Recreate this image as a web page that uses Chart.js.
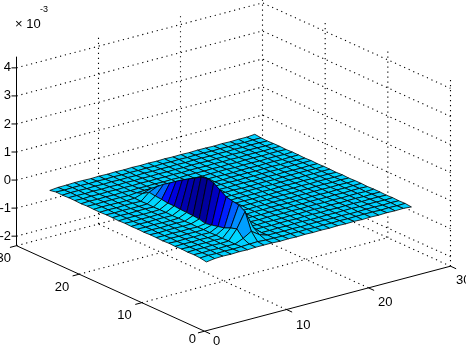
<!DOCTYPE html>
<html>
<head>
<meta charset="utf-8">
<style>
  html, body { margin: 0; padding: 0; background: #fff; }
  canvas { display: block; }
</style>
<script src="https://cdn.jsdelivr.net/npm/chart.js@4"></script>
</head>
<body>
<canvas id="grafico" width="466" height="346"></canvas>
<script>
// tick values and labels
const xyTicks = [0, 10, 20, 30];
const xyLabels = ['0', '10', '20', '30'];
const zTicks = [-2, -1, 0, 1, 2, 3, 4];
const zLabels = ['-2', '-1', '0', '1', '2', '3', '4'];
const wallTicks = [10, 20];

// surface heights (x 10^-3), one row per grid line, 26 x 26
const zRows = [
  [-.05,-.01,.004,-.006,.006,-.004,.008,-.008,.004,.006,-.006,.004,-.004,.006,-.006,.004,.006,-.006,-.004,.006,-.008,.004,.006,-.006,.004,-.04],
  [-.008,.006,-.004,.006,-.006,.004,-.006,.006,-.004,-.006,.006,-.006,.004,-.006,.004,.006,-.006,.004,.006,-.004,.006,-.006,.004,.006,-.006,-.01],
  [.004,-.006,.006,-.004,.004,-.006,.004,-.004,.006,.004,-.004,.006,-.006,.004,.006,-.006,.004,-.006,.004,.006,-.004,.006,-.006,.004,.006,-.006],
  [-.006,.004,-.006,.006,-.004,.006,-.006,.004,-.006,.006,.004,-.006,.006,-.004,-.006,.006,-.004,.006,-.006,.004,.006,-.004,.006,-.006,.004,.006],
  [.006,-.004,.004,-.006,.004,-.004,.006,-.006,.004,-.004,.006,-.006,.004,.006,-.004,.006,-.006,.004,-.006,.004,-.006,.006,-.004,.006,-.006,.004],
  [-.004,.006,-.006,.004,-.006,.006,-.004,.004,-.006,.006,-.004,.004,-.006,.006,.004,-.006,.004,-.004,.006,-.006,.006,-.004,.006,-.006,.004,-.006],
  [.01,.02,.12,.36,.29,.19,.14,.09,.04,.10,.12,.13,.14,.16,.16,.19,.21,.24,.10,.02,-.006,.004,-.006,.006,-.004,.006],
  [.01,.03,.30,.90,1.03,1.07,1.12,1.26,1.41,1.47,1.42,1.28,1.15,1.01,.86,.70,.55,.37,.20,.03,.004,-.006,.006,-.004,.006,-.004],
  [.01,.01,.10,.26,.20,.08,.006,-.006,.004,.006,-.004,.006,-.006,.004,.006,-.004,.006,-.006,.004,.006,-.004,.006,-.006,.004,-.006,.006],
  [-.006,.004,.006,-.006,.004,.006,-.004,.006,-.006,.004,.006,-.006,.004,-.004,.006,-.006,.004,.006,-.006,.004,.006,-.004,.006,-.006,.004,-.004],
  [.004,-.006,.004,-.006,.006,-.004,.006,-.006,.004,.006,-.006,.004,.006,-.004,.006,-.006,.004,.006,-.004,.006,-.006,.004,-.006,.006,-.004,.006],
  [-.006,.006,-.004,.004,-.006,.006,-.004,.004,-.006,.004,.006,-.006,.004,.006,-.004,.006,-.006,.004,.006,-.006,.004,-.004,.006,-.006,.006,-.004],
  [.006,-.004,.006,-.006,.004,-.006,.006,-.004,.006,-.006,.004,.006,-.006,.004,.006,-.006,.004,-.006,.004,.006,-.006,.006,-.004,.004,-.006,.006],
  [-.004,.006,-.006,.004,.006,-.004,.004,.006,-.006,.004,-.004,.006,.004,-.006,.004,.006,-.006,.006,-.004,.004,.006,-.006,.004,-.006,.006,-.004],
  [.004,-.006,.004,.006,-.006,.006,-.006,.004,.006,-.006,.006,-.004,.006,-.004,.006,-.004,.006,-.004,.006,-.006,.004,.006,-.006,.004,-.004,.006],
  [-.006,.004,.006,-.004,.006,-.004,.006,-.006,.004,.006,-.006,.004,-.006,.006,-.006,.004,.006,-.006,.004,.006,-.004,.004,.006,-.006,.006,-.004],
  [.006,-.006,.004,-.006,.004,.006,-.004,.006,-.006,.004,.006,-.004,.006,.004,-.006,.006,-.004,.006,-.006,.004,.006,-.006,.004,.006,-.004,.004],
  [-.004,.006,-.006,.006,-.004,.004,.006,-.006,.004,-.006,.004,.006,-.006,.006,.004,-.006,.006,.004,-.006,.006,-.004,.006,-.006,.004,.006,-.006],
  [.006,-.004,.006,-.004,.006,-.006,.004,.006,-.004,.006,-.006,.004,.006,-.004,.006,.004,-.006,.006,.004,-.006,.006,-.004,.006,-.006,.004,.006],
  [-.006,.004,-.006,.004,-.006,.006,-.006,.004,.006,-.004,.006,-.006,.004,.006,-.006,.006,.004,-.006,.006,.004,-.006,.006,-.004,.006,-.006,.004],
  [.004,.006,-.004,.006,.004,-.006,.006,-.004,.004,.006,-.006,.006,-.004,.004,.006,-.006,.006,.004,-.006,.004,.006,-.006,.006,-.004,.004,-.006],
  [-.006,.004,.006,-.006,.006,.004,-.006,.006,-.006,.004,.006,-.004,.006,-.006,.004,.006,-.004,.006,.004,-.006,.004,.006,-.006,.006,-.004,.006],
  [.006,-.006,.004,.006,-.004,.006,.004,-.006,.006,-.004,.004,.006,-.006,.004,.006,-.004,.006,-.006,.004,.006,-.006,.004,.006,-.004,.006,-.004],
  [-.004,.006,-.006,.004,.006,-.006,.006,.004,-.006,.006,-.006,.004,.006,-.004,.006,-.006,.004,.006,-.006,.004,.006,-.006,.004,.006,-.006,.006],
  [.004,-.004,.006,-.006,.004,.006,-.006,.006,.004,-.006,.006,-.004,.004,.006,-.006,.004,.006,-.004,.006,-.006,.004,.006,-.006,.004,.006,.004],
  [-.02,.004,-.004,.006,-.006,.004,.006,-.006,.006,.004,-.006,.006,-.006,.004,.006,-.004,.006,-.006,.004,.006,-.004,.006,.004,-.006,.006,.03]
];
// flat colours of the raised band (row 7), listed for grid columns 3 to 18
const ridgeColumns = [3,4,5,6,7,8,9,10,11,12,13,14,15,16,17,18];
const ridgeShades = ['#009fff','#008fff','#0060ff','#0020ff','#0000ef','#0000bf','#00009f','#00008f','#00009f','#0000af','#0000bf','#0000df','#0010ff','#005fff','#008fff','#00afff'];
// lighter strip in front of the band (row 6)
const frontColumns = [8,9,10,11,12,13,14,15];
// light blue cells behind the right end of the band (row 8)
const backColumns = [4,5];

// view of the box
const zMin = -2.34, zMax = 4.4;
const frente = { x: 204.5, y: 331.2 };
const eixoU = { x: 246 / 30, y: -65 / 30 };
const eixoV = { x: -188 / 30, y: -85.5 / 30 };
const zPx = 28.05;

function proj(u, v, z) {
  return {
    x: frente.x + u * eixoU.x + v * eixoV.x,
    y: frente.y + u * eixoU.y + v * eixoV.y - (z - zMin) * zPx
  };
}

function traco(pontos, dash) {
  return {
    data: pontos,
    showLine: true,
    borderColor: '#000',
    borderWidth: dash ? 1.1 : 1,
    borderDash: dash ? [1.2, 3.8] : [],
    pointRadius: 0,
    fill: false,
    tension: 0
  };
}

function corCelula(r, c) {
  const linha = r + 1, coluna = c + 1;
  if (linha === 7 && ridgeColumns.includes(coluna)) return ridgeShades[ridgeColumns.indexOf(coluna)];
  if (linha === 6 && frontColumns.includes(coluna)) return '#00dfff';
  if (linha === 8 && backColumns.includes(coluna)) return '#0090ff';
  return zRows[r][c] >= 0 ? '#00cfff' : '#00d7ff';
}

let fundo = [];

// walls and floor, dotted
zTicks.forEach(z => {
  fundo.push(traco([proj(0, 30, z), proj(30, 30, z), proj(30, 0, z)], true));
});
wallTicks.forEach(t => {
  fundo.push(traco([proj(t, 30, zMin), proj(t, 30, zMax)], true));
  fundo.push(traco([proj(30, t, zMin), proj(30, t, zMax)], true));
  fundo.push(traco([proj(t, 0, zMin), proj(t, 30, zMin)], true));
  fundo.push(traco([proj(0, t, zMin), proj(30, t, zMin)], true));
});
fundo.push(traco([proj(30, 30, zMin), proj(30, 30, zMax)], true));
fundo.push(traco([proj(30, 0, zMin), proj(30, 0, zMax)], true));
fundo.push(traco([proj(0, 30, zMin), proj(30, 30, zMin), proj(30, 0, zMin)], true));

// surface, far cells first
let celulas = [];
for (let r = 0; r < zRows.length - 1; r++) {
  for (let c = 0; c < zRows[r].length - 1; c++) {
    celulas.push({ r, c });
  }
}
celulas.sort((a, b) => (b.r + b.c) - (a.r + a.c));
const superficie = celulas.map(({ r, c }) => ({
  data: [
    proj(r + 1, c + 1, zRows[r][c]),
    proj(r + 2, c + 1, zRows[r + 1][c]),
    proj(r + 2, c + 2, zRows[r + 1][c + 1]),
    proj(r + 1, c + 2, zRows[r][c + 1]),
    proj(r + 1, c + 1, zRows[r][c])
  ],
  showLine: true,
  borderColor: '#000',
  borderWidth: 0.8,
  backgroundColor: corCelula(r, c),
  pointRadius: 0,
  fill: 'shape',
  tension: 0
}));

// solid axes with their tick marks
let eixos = [
  traco([proj(0, 30, zMin), proj(0, 0, zMin), proj(30, 0, zMin)]),
  traco([proj(0, 30, zMin), proj(0, 30, zMax)])
];
xyTicks.forEach(t => {
  eixos.push(traco([proj(t, 0, zMin), proj(t, -0.9, zMin)]));
  eixos.push(traco([proj(0, t, zMin), proj(-0.8, t, zMin)]));
});
zTicks.forEach(z => {
  const p = proj(0, 30, z);
  eixos.push(traco([p, { x: p.x - 5, y: p.y }]));
});

const uDesloc = [[8.5, 10], [9.6, 15.5], [9.5, 14.5], [5.5, 14]];
const vDesloc = [[-8.5, 8], [-10, 13], [-10, 13], [-5.5, 13]];

const textos = {
  id: 'textos',
  afterDraw(chart) {
    const { ctx, scales } = chart;
    const px = p => ({ x: scales.x.getPixelForValue(p.x), y: scales.y.getPixelForValue(p.y) });
    ctx.save();
    ctx.fillStyle = '#000';
    ctx.font = '13px "Liberation Sans"';
    ctx.textBaseline = 'middle';
    ctx.textAlign = 'left';
    xyLabels.forEach((s, i) => {
      const p = px(proj(xyTicks[i], 0, zMin));
      ctx.fillText(s, p.x + uDesloc[i][0], p.y + uDesloc[i][1]);
    });
    ctx.textAlign = 'right';
    xyLabels.forEach((s, i) => {
      const p = px(proj(0, xyTicks[i], zMin));
      ctx.fillText(s, p.x + vDesloc[i][0], p.y + vDesloc[i][1]);
    });
    zLabels.forEach((s, i) => {
      const p = px(proj(0, 30, zTicks[i]));
      ctx.fillText(s, p.x - 5.5, p.y);
    });
    ctx.textAlign = 'left';
    ctx.fillText('\u00d7 10', 15, 24);
    ctx.font = '9px "Liberation Sans"';
    ctx.fillText('-3', 40, 10);
    ctx.restore();
  }
};

// first dataset ends up on top, so the list goes front to back
const datasets = [...eixos, ...superficie.slice().reverse(), ...fundo];

new Chart(document.getElementById('grafico'), {
  type: 'scatter',
  data: { datasets },
  options: {
    responsive: false,
    animation: false,
    events: [],
    layout: { padding: 0 },
    clip: false,
    scales: {
      x: { type: 'linear', min: 0, max: 466, display: false },
      y: { type: 'linear', min: 0, max: 346, reverse: true, display: false }
    },
    plugins: { legend: { display: false }, tooltip: { enabled: false } }
  },
  plugins: [textos]
});
</script>
</body>
</html>
